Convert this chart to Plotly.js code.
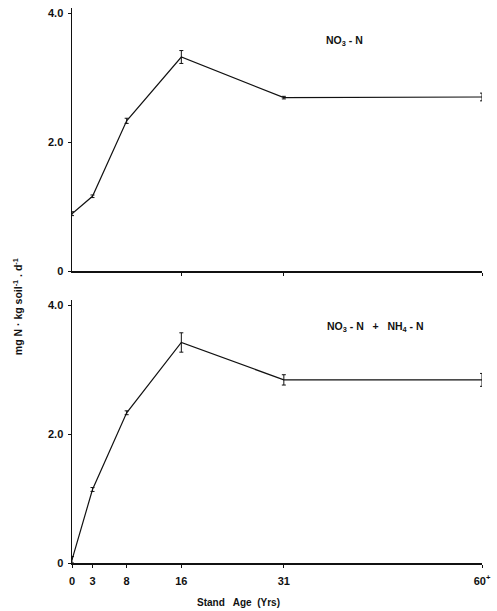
<!DOCTYPE html>
<html>
<head>
<meta charset="utf-8">
<script src="https://cdn.plot.ly/plotly-3.0.1.min.js"></script>
<style>html,body{margin:0;padding:0;background:#fff;}#chart{width:497px;height:611px;}</style>
</head>
<body>
<div id="chart"></div>
<script>
// Data
const standAge = [0, 3, 8, 16, 31, 60];
const tickLabels = ["0", "3", "8", "16", "31", "60<sup>+</sup>"];
const no3 = [0.89, 1.16, 2.33, 3.32, 2.69, 2.70];
const no3Err = [0.03, 0.02, 0.04, 0.10, 0.02, 0.06];
const total = [0.05, 1.14, 2.33, 3.42, 2.84, 2.84];
const totalErr = [0.05, 0.03, 0.03, 0.15, 0.08, 0.10];
const yTickVals = [0, 2, 4];
const yTickText = ["0", "2.0", "4.0"];

const lineStyle = {color: "#111", width: 1.2};
const errStyle = {type: "data", visible: true, color: "#111", thickness: 1, width: 2};

const traces = [
  {x: standAge, y: no3, mode: "lines", line: lineStyle, xaxis: "x2", yaxis: "y2",
   error_y: Object.assign({array: no3Err}, errStyle), showlegend: false},
  {x: standAge, y: total, mode: "lines", line: lineStyle, xaxis: "x", yaxis: "y",
   error_y: Object.assign({array: totalErr}, errStyle), showlegend: false}
];

const fam = "Liberation Sans, Arial, sans-serif";
const font = {family: fam, size: 10, color: "#111"};
const tickFont = {family: fam, size: 11, color: "#111", weight: 700};
const xBase = {range: [0, 60], showline: true, linecolor: "#111", linewidth: 1.5,
  showgrid: false, zeroline: false, ticks: "outside", ticklen: 3, tickcolor: "#111",
  tickvals: standAge, ticktext: tickLabels, tickfont: tickFont, ticklabelstandoff: 4};
const yBase = {range: [0, 4.08], showline: true, linecolor: "#111", linewidth: 1.5,
  showgrid: false, zeroline: false, ticks: "outside", ticklen: 3, tickcolor: "#111",
  tickvals: yTickVals, ticktext: yTickText, tickfont: tickFont, ticklabelstandoff: 2};

const layout = {
  width: 497, height: 611,
  margin: {l: 72, r: 15, t: 8, b: 48},
  paper_bgcolor: "#fff", plot_bgcolor: "#fff",
  font: font,
  xaxis: Object.assign({}, xBase, {anchor: "y", domain: [0, 1]}),
  yaxis: Object.assign({}, yBase, {anchor: "x", domain: [0, 0.474]}),
  xaxis2: Object.assign({}, xBase, {anchor: "y2", domain: [0, 1], showticklabels: false,
    tickvals: [16, 31, 60]}),
  yaxis2: Object.assign({}, yBase, {anchor: "x2", domain: [0.526, 1]}),
  annotations: [
    {text: "<b>NO<sub>3</sub> - N</b>", xref: "paper", yref: "paper", x: 0.665, y: 0.941,
     xanchor: "center", yanchor: "middle", showarrow: false, font: {family: fam, size: 10.5, color: "#111"}},
    {text: "<b>NO<sub>3</sub> - N   +   NH<sub>4</sub> - N</b>", xref: "paper", yref: "paper", x: 0.74, y: 0.425,
     xanchor: "center", yanchor: "middle", showarrow: false, font: {family: fam, size: 10.5, color: "#111"}},
    {text: "<b>Stand   Age  (Yrs)</b>", xref: "paper", yref: "paper", x: 0.405, y: -0.072,
     xanchor: "center", yanchor: "middle", showarrow: false, font: {family: fam, size: 10, color: "#111"}},
    {text: "<b>mg N · kg soil<sup>-1</sup> . d<sup>-1</sup></b>", xref: "paper", yref: "paper", x: -0.134, y: 0.461,
     xanchor: "center", yanchor: "middle", textangle: -90, showarrow: false, font: {family: fam, size: 10.5, color: "#111"}}
  ]
};

Plotly.newPlot("chart", traces, layout, {displayModeBar: false, staticPlot: true});
</script>
</body>
</html>
